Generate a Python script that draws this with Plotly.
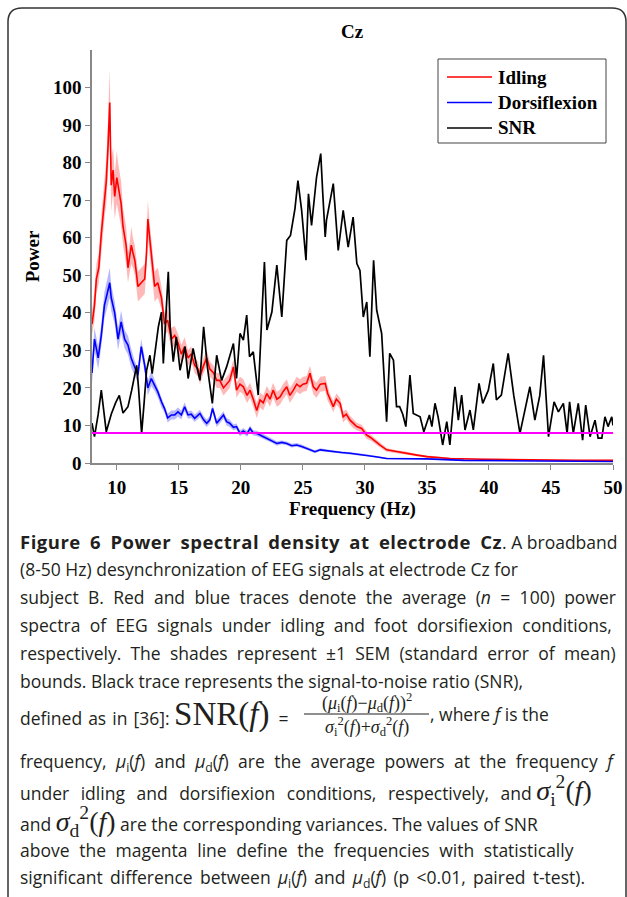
import plotly.graph_objects as go

# ---------------- data ----------------
idle_freq = [8.0, 8.2, 8.35, 8.55, 8.75, 9.0, 9.15, 9.3, 9.43, 9.55, 9.7, 9.83, 10.0, 10.1, 10.35, 10.5,
             10.75, 10.9, 11.05, 11.17, 11.3, 11.45, 11.6, 11.7, 11.97, 12.25, 12.4, 12.5, 12.65, 12.78,
             13.05, 13.3, 13.6, 13.85, 14.1, 14.4, 14.67, 14.93, 15.2, 15.47, 15.74, 16.0, 16.28, 16.55,
             16.7, 17.0, 17.25, 17.5, 17.8, 18.05, 18.3, 18.6, 18.85, 19.1, 19.4, 19.65, 19.93, 20.2,
             20.5, 20.74, 21.0, 21.28, 21.55, 21.8, 22.1, 22.35, 22.6, 22.9, 23.16, 23.4, 23.7, 23.95,
             24.23, 24.5, 24.77, 25.0, 25.3, 25.57, 25.84, 26.1, 26.4, 26.8, 27.0, 27.2, 27.45, 27.7,
             28.0, 28.25, 28.5, 28.8, 29.05, 29.34, 29.74, 30.15, 30.45, 30.7, 31.2, 31.75, 32.55, 33.4,
             34.2, 35.0, 36.85, 39.5, 43.6, 47.0, 50.0]
idle_power = [37, 42, 49, 52, 61, 71, 75, 85, 96, 74, 78, 71, 76, 74, 69, 63,
              58, 52, 55, 58, 56, 54, 50, 47, 48, 49, 56, 65, 60, 56,
              47, 48, 44, 37, 38, 33, 34, 32, 29, 31, 28, 29, 26, 25,
              23, 26, 28, 25, 24, 22, 22, 20, 21, 22, 25.6, 19.4, 21, 20.3,
              18, 19.4, 17, 14, 16.8, 16, 18.5, 17, 19.4, 17, 17.6, 19, 20.3, 18,
              19.4, 21, 20.3, 21, 21.2, 23.9, 20.3, 19.4, 21, 21.2, 18.5, 16.8, 15, 17,
              15.9, 12.3, 13, 11.4, 10.5, 9.7, 9.2, 7.4, 6.8, 6.1, 4.8, 3.5, 3.0, 2.6,
              2.1, 1.7, 1.2, 1.0, 0.8, 0.7, 0.7]
idle_sem = [3, 4, 4, 4, 5, 6, 6, 7, 9, 7, 6, 6, 7, 6, 6, 5,
            5, 4, 4, 5, 4, 4, 4, 4, 4, 4, 4, 5, 4, 4,
            4, 4, 3, 3, 3, 3, 2.5, 2.5, 2.5, 2.5, 2, 2, 2, 2,
            2, 2, 2, 2, 2, 2, 2, 2, 2, 2, 2, 2, 2, 2,
            2, 2, 2, 2, 2, 2, 2, 2, 2, 2, 2, 2, 2, 2,
            2, 2, 2, 2, 2, 2, 2, 2, 2, 2, 2, 1.5, 1.5, 1.5,
            1.5, 1.5, 1.2, 1.2, 1.2, 1, 1, 1, 0.8, 0.8, 0.6, 0.5, 0.4, 0.4,
            0.3, 0.3, 0.2, 0.2, 0.15, 0.15, 0.15]

dors_freq = [8.0, 8.2, 8.5, 8.75, 9.0, 9.3, 9.43, 9.55, 9.83, 10.1, 10.35, 10.63, 10.9, 11.17, 11.45,
             11.7, 11.97, 12.25, 12.5, 12.78, 13.05, 13.3, 13.6, 13.85, 14.1, 14.4, 14.67, 14.93, 15.2,
             15.47, 15.74, 16.0, 16.28, 16.5, 16.7, 17.0, 17.25, 17.5, 17.72, 18.05, 18.3, 18.6, 18.85,
             19.1, 19.4, 19.65, 19.93, 20.2, 20.5, 20.74, 21.0, 21.28, 21.7, 22.1, 22.5, 22.9, 23.3,
             23.7, 24.1, 24.5, 24.9, 25.3, 25.97, 26.4, 27.0, 27.45, 28.1, 28.8, 29.5, 30.15, 31.0,
             31.75, 33.4, 35.0, 38.0, 42.0, 46.0, 50.0]
dors_power = [24, 33, 28, 34, 42, 46.5, 48, 44, 40, 33, 37.6, 33, 31.4, 27.8, 25.2,
              23.4, 31, 26, 20, 22.5, 20.7, 19, 16.3, 14.5, 12, 12.8, 12.8, 13.6, 12.8,
              15, 12.8, 13, 11.9, 12.5, 13.2, 11.5, 10.6, 11.5, 14.5, 10.6, 11.5, 12.8, 11,
              10.6, 9.5, 9.7, 7.9, 8.5, 7.8, 9.2, 8, 7.9, 7.2, 6.6, 6, 5.2, 5.5,
              5.2, 4.6, 4.8, 4.4, 3.9, 3.0, 3.5, 3.2, 3.0, 2.8, 2.6, 2.3, 2.1, 1.6,
              1.2, 1.2, 1.1, 0.7, 0.6, 0.5, 0.4]
dors_sem = [3, 3, 3, 3, 3.5, 4, 4, 3.5, 3, 3, 3, 2.5, 2.5, 2.5, 2,
            2, 2, 2, 2, 2, 1.5, 1.5, 1.5, 1.2, 1.2, 1.2, 1.2, 1.2, 1.2,
            1.2, 1, 1, 1, 1, 1, 1, 1, 1, 1, 1, 1, 1, 1,
            1, 0.8, 0.8, 0.8, 0.8, 0.8, 0.8, 0.7, 0.7, 0.7, 0.6, 0.6, 0.6, 0.5,
            0.5, 0.5, 0.5, 0.5, 0.4, 0.4, 0.4, 0.3, 0.3, 0.3, 0.3, 0.3, 0.2, 0.2,
            0.2, 0.2, 0.15, 0.1, 0.1, 0.1, 0.1]

snr_freq = [8.0, 8.2, 8.5, 8.75, 9.15, 9.55, 9.9, 10.2, 10.5, 10.9, 11.2, 11.45, 11.6, 11.75, 12.0,
            12.2, 12.4, 12.67, 12.85, 13.1, 13.35, 13.6, 13.75, 14.15, 14.3, 14.55, 14.8, 15.1, 15.5,
            15.75, 16.15, 16.45, 16.7, 17.0, 17.3, 17.7, 18.05, 18.45, 18.85, 19.4, 19.65, 19.93, 20.2,
            20.47, 20.7, 21.0, 21.4, 21.7, 21.9, 22.1, 22.5, 22.9, 23.1, 23.3, 23.7, 24.0, 24.36,
            24.6, 24.9, 25.25, 25.45, 25.7, 26.1, 26.3, 26.44, 26.6, 26.8, 26.9, 27.45, 27.85, 28.25,
            28.65, 29.05, 29.35, 29.6, 29.87, 30.15, 30.4, 30.7, 30.95, 31.35, 31.75, 32.0, 32.3, 32.55,
            32.8, 33.05, 33.3, 33.63, 33.9, 34.45, 34.75, 35.2, 35.4, 35.65, 35.9, 36.27, 36.6, 36.85,
            37.26, 37.53, 37.8, 38.07, 38.47, 38.74, 39.2, 39.5, 39.95, 40.35, 40.6, 41.0, 41.55, 42.0,
            42.5, 42.9, 43.3, 43.7, 44.1, 44.4, 44.8, 45.25, 45.6, 46.0, 46.3, 46.5, 46.8, 47.2,
            47.55, 47.8, 48.15, 48.55, 48.8, 49.1, 49.35, 49.6, 49.9, 50.0]
snr_values = [10.6, 7, 13, 19.4, 8.3, 13, 16, 18, 13.3, 15, 19.4, 23, 26, 20, 7.9,
              16, 24.7, 28.7, 23.8, 30, 36.3, 40.2, 26.5, 50.9, 36.3, 27, 33.6, 24.7, 31,
              22.5, 30.5, 25.6, 22, 36.3, 25.6, 15.9, 28.7, 22, 25.6, 31.8, 22.5, 34.5, 32.7,
              39.4, 28.3, 29.6, 18.1, 40, 53.5, 35.4, 40.2, 52.7, 45, 38.9, 59.3, 60.6, 67.7,
              75.2, 67.3, 54, 71.7, 63.3, 76.1, 80, 82.4, 72, 60.2, 64.6, 74.4, 56.6, 67.3,
              57.5, 65.5, 53.1, 51.3, 38.9, 42.9, 28.3, 54, 40.7, 34.5, 11, 29.2, 27.4, 15,
              15, 13, 9.7, 23.4, 13.2, 12.3, 8.3, 12.8, 9.7, 15.9, 12.3, 4.8, 11, 4.8,
              20.3, 11.4, 18.1, 8.8, 14.1, 8.8, 21.2, 15.9, 19.4, 26.5, 16.8, 18.1, 29.2, 18,
              7.9, 14.1, 20.3, 11.4, 18, 28.7, 7, 16.3, 13.6, 15.9, 7.9, 16.3, 7.9, 15.9,
              6.1, 15.4, 7, 11.4, 6.6, 6.6, 12.3, 9.7, 12.3, 10]

threshold = 8
x_ticks = [10, 15, 20, 25, 30, 35, 40, 45, 50]
y_ticks = [0, 10, 20, 30, 40, 50, 60, 70, 80, 90, 100]
series_names = ["Idling", "Dorsiflexion", "SNR"]
series_colors = ["#ff0000", "#0000ff", "#000000"]

# ---------------- geometry helpers (pixel -> paper) ----------------
W, H = 627, 897
L, R, T, B = 92, 613, 50, 463


def px(x):
    return (x - L) / (R - L)


def py(y):
    return (B - y) / (B - T)


SERIF = "Liberation Serif, Times New Roman, serif"
SANS = "Open Sans, sans-serif"

fig = go.Figure()


def band(freq, mean, sem, color):
    upper = [m + s for m, s in zip(mean, sem)]
    lower = [max(m - s, 0) for m, s in zip(mean, sem)]
    fig.add_trace(go.Scatter(x=freq + freq[::-1], y=upper + lower[::-1], fill="toself",
                             fillcolor=color, line=dict(width=0), hoverinfo="skip",
                             showlegend=False, mode="lines"))


band(idle_freq, idle_power, idle_sem, "rgba(255,0,0,0.28)")
band(dors_freq, dors_power, dors_sem, "rgba(0,0,255,0.28)")

fig.add_trace(go.Scatter(x=idle_freq, y=idle_power, mode="lines", name=series_names[0],
                         line=dict(color=series_colors[0], width=1.6), showlegend=False))
fig.add_trace(go.Scatter(x=dors_freq, y=dors_power, mode="lines", name=series_names[1],
                         line=dict(color=series_colors[1], width=1.6), showlegend=False))
fig.add_trace(go.Scatter(x=snr_freq, y=snr_values, mode="lines", name=series_names[2],
                         line=dict(color=series_colors[2], width=1.7), showlegend=False))
fig.add_trace(go.Scatter(x=[8, 50], y=[threshold, threshold], mode="lines", showlegend=False,
                         line=dict(color="#ff00ff", width=2)))

axis_font = dict(family=SERIF, size=19, color="#000", weight="bold")

fig.update_xaxes(range=[8, 50], tickvals=x_ticks, showline=True, linecolor="#888", linewidth=1.5,
                 ticks="outside", ticklen=5, tickcolor="#888", showgrid=False, zeroline=False,
                 tickfont=axis_font, ticklabelstandoff=1,
                 title=dict(text="Frequency (Hz)", font=axis_font, standoff=0))
fig.update_yaxes(range=[0, 110], tickvals=y_ticks, showline=True, linecolor="#888", linewidth=1.5,
                 ticks="outside", ticklen=5, tickcolor="#888", showgrid=False, zeroline=False,
                 tickfont=axis_font, ticklabelstandoff=0,
                 title=dict(text="Power", font=axis_font, standoff=8))

annotations = []
shapes = []
# chart title
annotations.append(dict(x=px(352), y=py(32), xref="paper", yref="paper", text="<b>Cz</b>",
                        showarrow=False, font=dict(family=SERIF, size=19, color="#000"),
                        xanchor="center", yanchor="middle"))

# legend box (drawn by hand to match the original placement)
shapes.append(dict(type="rect", xref="paper", yref="paper", x0=px(438), x1=px(606),
                   y0=py(59), y1=py(143), line=dict(color="#444", width=1), fillcolor="white",
                   layer="above"))
for i, (nm, col) in enumerate(zip(series_names, series_colors)):
    yy = 77 + i * 25.5
    shapes.append(dict(type="line", xref="paper", yref="paper", x0=px(447), x1=px(492),
                       y0=py(yy), y1=py(yy), line=dict(color=col, width=1.6), layer="above"))
    annotations.append(dict(x=px(496), y=py(yy), xref="paper", yref="paper", text="<b>" + nm + "</b>",
                            showarrow=False, font=dict(family=SERIF, size=19, color="#000"),
                            xanchor="left", yanchor="middle"))

# caption
cap_font = dict(family=SANS, size=17.5, color="#231f20")
SER = "font-family:Liberation Serif, Times New Roman, serif;"
mu_i = "<i>μ</i><sub>i</sub>(<i>f</i>)"
mu_d = "<i>μ</i><sub>d</sub>(<i>f</i>)"


def ws(txt, sp):
    return "<span style='word-spacing:%.1fpx'>%s</span>" % (sp, txt)


lines = [
    (541, "<span style='font-size:18.5px;letter-spacing:0.5px;word-spacing:4px'><b>Figure 6 Power spectral density at electrode Cz</b></span>. A broadband"),
    (569, "(8-50 Hz) desynchronization of EEG signals at electrode Cz for"),
    (597, ws("subject B. Red and blue traces denote the average (<i>n</i> = 100) power", 4.8)),
    (625, ws("spectra of EEG signals under idling and foot dorsifiexion conditions,", 4.8)),
    (653, ws("respectively. The shades represent ±1 SEM (standard error of mean)", 4.7)),
    (681, "bounds. Black trace represents the signal-to-noise ratio (SNR),"),
    (714, ws("defined as in [36]:", 1.5) + " <span style='" + SER + "font-size:33px'>SNR(<i>f</i>)</span>  ="),
    (762, ws("frequency, " + mu_i + " and " + mu_d + " are the average powers at the frequency <i>f</i>", 4.9)),
    (791, ws("under idling and dorsifiexion conditions, respectively, and", 7.0) + " <span style='" + SER +
     "font-size:28px'><i>σ</i><sub>i</sub><sup>2</sup>(<i>f</i>)</span>"),
    (821, "and <span style='" + SER + "font-size:28px'><i>σ</i><sub>d</sub><sup>2</sup>(<i>f</i>)</span> " +
     "are the corresponding variances. The values of SNR"),
    (850, ws("above the magenta line define the frequencies with statistically", 5.1)),
    (878, ws("significant difference between " + mu_i + " and " + mu_d + " (p &lt;0.01, paired t-test).", 2.7)),
]
for yy, txt in lines:
    annotations.append(dict(x=px(18), y=py(yy), xref="paper", yref="paper", text=txt,
                            showarrow=False, font=cap_font, xanchor="left", yanchor="middle"))

# fraction of the SNR formula
frac_font = dict(family=SERIF, size=18, color="#231f20")
annotations.append(dict(x=px(367), y=py(703), xref="paper", yref="paper",
                        text="(<i>μ</i><sub>i</sub>(<i>f</i>)−<i>μ</i><sub>d</sub>(<i>f</i>))<sup>2</sup>",
                        showarrow=False, font=frac_font, xanchor="center", yanchor="middle"))
annotations.append(dict(x=px(367), y=py(726), xref="paper", yref="paper",
                        text="<i>σ</i><sub>i</sub><sup>2</sup>(<i>f</i>)+<i>σ</i><sub>d</sub><sup>2</sup>(<i>f</i>)",
                        showarrow=False, font=frac_font, xanchor="center", yanchor="middle"))
annotations.append(dict(x=px(428), y=py(714), xref="paper", yref="paper",
                        text=", where <i>f</i> is the", showarrow=False, font=cap_font,
                        xanchor="left", yanchor="middle"))

# fraction bar
shapes.append(dict(type="line", xref="paper", yref="paper", x0=px(304), x1=px(429), y0=py(714), y1=py(714),
                   line=dict(color="#231f20", width=1)))
# rounded frame around the figure
shapes.append(dict(type="path", xref="paper", yref="paper",
                   path=("M {a},{b} L {a},{c} Q {a},{d} {e},{d} L {f},{d} Q {g},{d} {g},{c} L {g},{b}").format(
                       a=px(8), b=py(905), c=py(22), d=py(8), e=px(22), f=px(612), g=px(626)),
                   line=dict(color="#333", width=1.5)))

fig.update_layout(
    width=W, height=H,
    margin=dict(l=L, r=W - R, t=T, b=H - B, autoexpand=False),
    paper_bgcolor="white", plot_bgcolor="white",
    showlegend=False,
    annotations=annotations,
    shapes=shapes,
)

fig.write_html("out.html", config={"displayModeBar": False},
               post_script="document.body.style.margin='0';document.body.style.overflow='hidden';")
